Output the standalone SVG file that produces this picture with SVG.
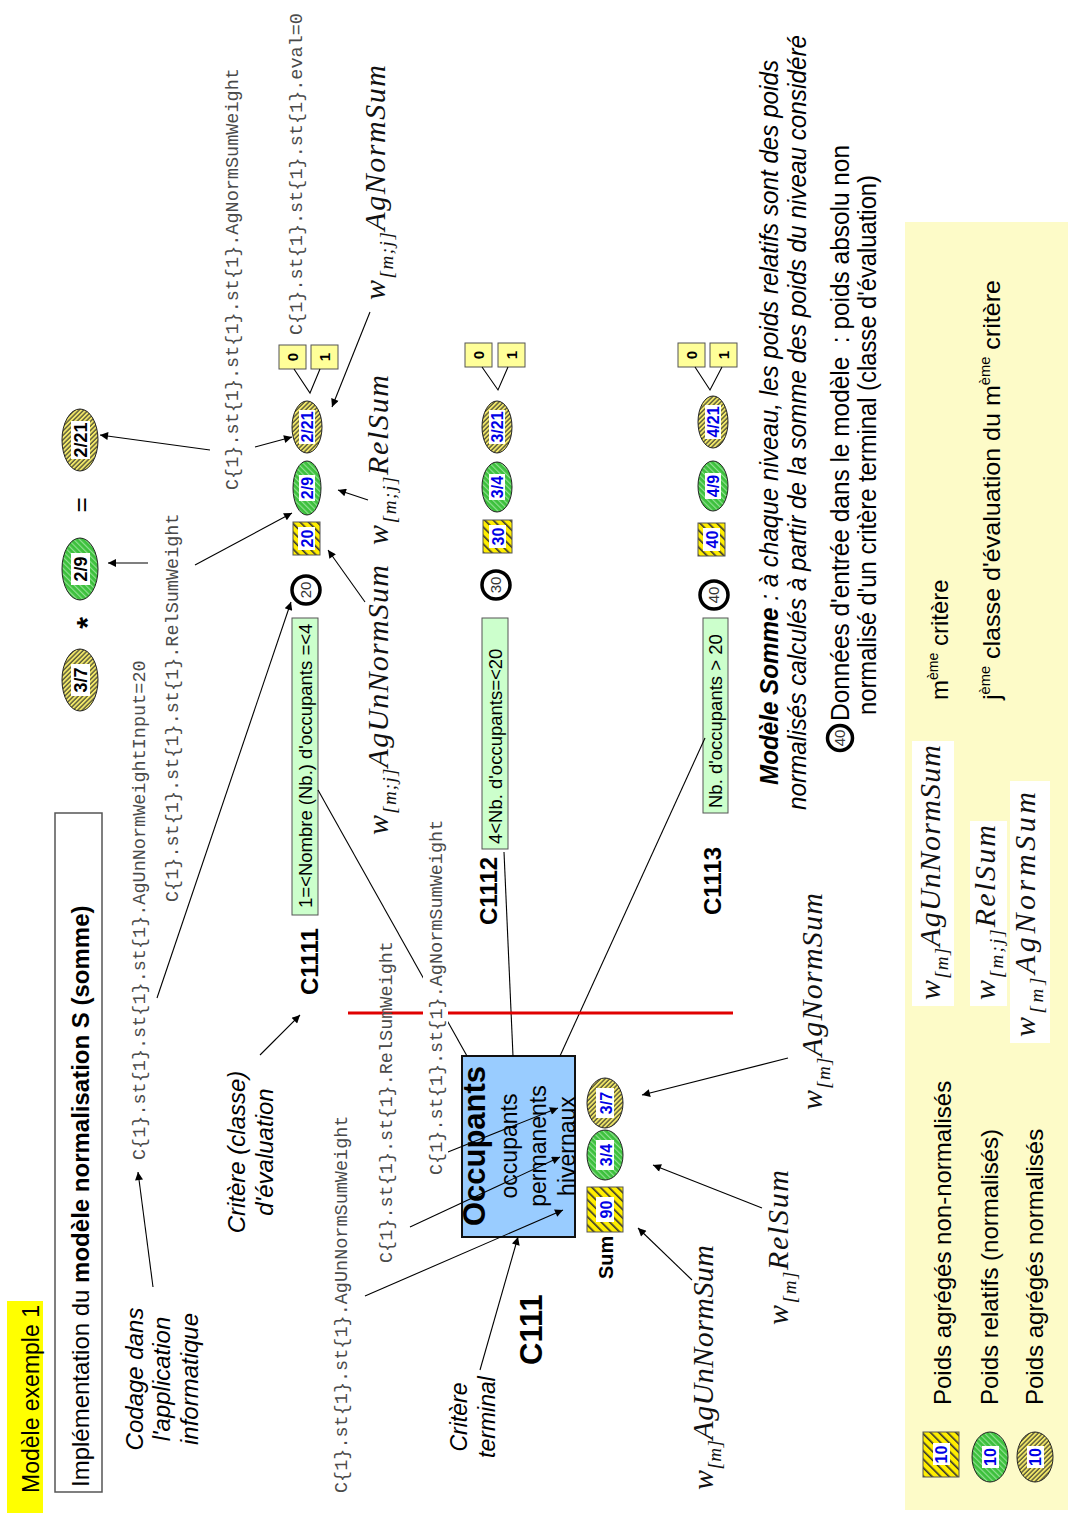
<svg xmlns="http://www.w3.org/2000/svg" width="1068" height="1513" viewBox="0 0 1068 1513">
<defs>
<style>
.mono{font-family:"Liberation Mono","DejaVu Sans Mono",monospace;font-size:18.5px;fill:#4a4a4a}
.math{font-family:"Liberation Serif","DejaVu Serif",serif;font-style:italic;font-size:30px;fill:#111}
.sub{font-size:19px}
.sans{font-family:"Liberation Sans",Arial,sans-serif;fill:#000}
.it{font-style:italic}
.b{font-weight:bold}
.c{stroke:#000;stroke-width:1.1;fill:none}
.a{marker-end:url(#ar)}
.lb{font-family:"Liberation Sans",Arial,sans-serif;font-weight:bold;font-size:16px;fill:#0000e6;text-anchor:middle}
.lk{font-family:"Liberation Sans",Arial,sans-serif;font-weight:bold;font-size:18px;fill:#000;text-anchor:middle}
.lw{fill:#fff}
.hy{fill:url(#hy);stroke:#555;stroke-width:1}
.hg{fill:url(#hg);stroke:#222;stroke-width:1}
.ho{fill:url(#ho);stroke:#222;stroke-width:1}
.gb{fill:#ccffcc;stroke:#555;stroke-width:1}
.yb{fill:#ffff99;stroke:#555;stroke-width:1}
.ci{fill:#fff;stroke:#000;stroke-width:3.5}
.ct{font-family:"Liberation Sans",Arial,sans-serif;font-size:15px;fill:#333;text-anchor:middle}
.bt{font-family:"Liberation Sans",Arial,sans-serif;font-weight:bold;font-size:15px;fill:#000;text-anchor:middle}
</style>
<marker id="ar" viewBox="0 0 10 10" refX="10" refY="5" markerWidth="11" markerHeight="8" orient="auto" markerUnits="userSpaceOnUse"><path d="M0,0L10,5L0,10z" fill="#000"/></marker>
<pattern id="hy" width="6" height="6" patternUnits="userSpaceOnUse" patternTransform="rotate(45)"><rect width="6" height="6" fill="#ffee00"/><rect width="1.6" height="6" fill="#333"/></pattern>
<pattern id="hg" width="4" height="4" patternUnits="userSpaceOnUse" patternTransform="rotate(45)"><rect width="4" height="4" fill="#3cc03c"/><rect width="1.2" height="4" fill="#90e090"/></pattern>
<pattern id="ho" width="3.2" height="3.2" patternUnits="userSpaceOnUse" patternTransform="rotate(-45)"><rect width="3.2" height="3.2" fill="#f2e868"/><rect width="1.4" height="3.2" fill="#5a5a3a"/></pattern>
</defs>
<rect width="1068" height="1513" fill="#fff"/>
<g transform="translate(0,1513) rotate(-90)">

<g id="legend-bg"><rect x="3" y="905" width="1288" height="163" fill="#fdfbc8"/></g>

<g id="title-tag"><rect x="0" y="7" width="212" height="36" fill="#ffff00"/><text class="sans" x="20" y="39" font-size="23">Modèle exemple 1</text></g>
<g id="title"><rect x="21" y="55" width="679" height="47" fill="#fff" stroke="#555" stroke-width="1.5"/><text class="sans" x="26" y="89" font-size="24">Implémentation du <tspan class="b">modèle normalisation S (somme)</tspan></text></g>

<g id="notes">
<text class="sans it" font-size="24" text-anchor="middle"><tspan x="134" y="143">Codage dans</tspan><tspan x="134" y="170">l'application</tspan><tspan x="134" y="198">informatique</tspan></text>
<text class="sans it" font-size="24" text-anchor="middle"><tspan x="361" y="245">Critère (classe)</tspan><tspan x="361" y="273">d'évaluation</tspan></text>
<text class="sans it" font-size="23" text-anchor="middle"><tspan x="96" y="467">Critère</tspan><tspan x="96" y="495">terminal</tspan></text>
</g>

<g id="C111">
<text class="sans b" x="148" y="542" font-size="31">C111</text>
<rect x="276" y="462" width="181" height="113" fill="#99ccff" stroke="#111" stroke-width="2"/>
<text class="sans" text-anchor="middle"><tspan x="367" y="485" font-size="31" font-weight="bold">Occupants</tspan><tspan x="367" y="517" font-size="23">occupants</tspan><tspan x="367" y="546" font-size="23">permanents</tspan><tspan x="367" y="575" font-size="23">hivernaux</tspan></text>
</g>
<g id="C111-weights">
<text class="sans b" x="234" y="613" font-size="20">Sum</text>
<rect class="hy" x="281" y="587" width="45" height="36"/><rect class="lw" x="291" y="596" width="25" height="18"/><text class="lb" x="303.5" y="611.5" font-size="18">90</text>
<ellipse class="hg" cx="358" cy="605" rx="25" ry="18"/><rect class="lw" x="343" y="596" width="30" height="18"/><text class="lb" x="358" y="611.5" font-size="18">3/4</text>
<ellipse class="ho" cx="410" cy="605" rx="25" ry="18"/><rect class="lw" x="395" y="596" width="30" height="18"/><text class="lb" x="410" y="611.5" font-size="18">3/7</text>
</g>

<g id="formula">
<ellipse class="ho" cx="833" cy="80" rx="31" ry="18"/><rect class="lw" x="817" y="71" width="32" height="19"/><text class="lk" x="833" y="87">3/7</text>
<text class="sans b" x="890" y="97" font-size="30" text-anchor="middle">*</text>
<ellipse class="hg" cx="944" cy="80" rx="31" ry="18"/><rect class="lw" x="928" y="71" width="32" height="19"/><text class="lk" x="944" y="87">2/9</text>
<text class="sans" x="1008" y="90" font-size="26" text-anchor="middle">=</text>
<ellipse class="ho" cx="1073" cy="80" rx="31" ry="18"/><rect class="lw" x="1054" y="71" width="38" height="19"/><text class="lk" x="1073" y="87">2/21</text>
</g>

<g id="C1111">
<text class="sans b" x="518" y="318" font-size="24">C1111</text>
<rect class="gb" x="598" y="292" width="297" height="26"/><text class="sans" x="605" y="312" font-size="18.5">1=&lt;Nombre (Nb.) d'occupants =&lt;4</text>
<circle class="ci" cx="923" cy="306" r="14"/><text class="ct" x="923" y="311">20</text>
<rect class="hy" x="958" y="293" width="33" height="27"/><rect class="lw" x="963" y="298" width="23" height="17"/><text class="lb" x="974.5" y="312.5">20</text>
<ellipse class="hg" cx="1025" cy="307" rx="27" ry="14"/><rect class="lw" x="1012" y="299" width="26" height="16"/><text class="lb" x="1025" y="313">2/9</text>
<ellipse class="ho" cx="1086" cy="307" rx="26" ry="15"/><rect class="lw" x="1069" y="299" width="34" height="16"/><text class="lb" x="1086" y="313">2/21</text>
<rect class="yb" x="1144" y="279" width="24" height="27"/><text class="bt" x="1156" y="298">0</text>
<rect class="yb" x="1144" y="311" width="24" height="27"/><text class="bt" x="1156" y="330">1</text>
</g>

<g id="C1112">
<text class="sans b" x="588" y="497" font-size="24">C1112</text>
<rect class="gb" x="664" y="482" width="231" height="26"/><text class="sans" x="669" y="502" font-size="18.5">4&lt;Nb. d'occupants=&lt;20</text>
<circle class="ci" cx="928" cy="496" r="14"/><text class="ct" x="928" y="501">30</text>
<rect class="hy" x="960" y="483" width="33" height="29"/><rect class="lw" x="965" y="489" width="23" height="17"/><text class="lb" x="976.5" y="503.5">30</text>
<ellipse class="hg" cx="1026" cy="497" rx="25" ry="15"/><rect class="lw" x="1013" y="489" width="26" height="16"/><text class="lb" x="1026" y="503">3/4</text>
<ellipse class="ho" cx="1086" cy="497" rx="26" ry="15"/><rect class="lw" x="1069" y="489" width="34" height="16"/><text class="lb" x="1086" y="503">3/21</text>
<rect class="yb" x="1146" y="465" width="24" height="27"/><text class="bt" x="1158" y="484">0</text>
<rect class="yb" x="1146" y="498" width="24" height="27"/><text class="bt" x="1158" y="517">1</text>
</g>

<g id="C1113">
<text class="sans b" x="598" y="721" font-size="24">C1113</text>
<rect class="gb" x="700" y="703" width="195" height="25"/><text class="sans" x="705" y="722" font-size="18.5">Nb. d'occupants &gt; 20</text>
<circle class="ci" cx="918" cy="714" r="14"/><text class="ct" x="918" y="719">40</text>
<rect class="hy" x="957" y="698" width="33" height="27"/><rect class="lw" x="962" y="703" width="23" height="17"/><text class="lb" x="973.5" y="717.5">40</text>
<ellipse class="hg" cx="1027" cy="713" rx="25" ry="15"/><rect class="lw" x="1014" y="705" width="26" height="16"/><text class="lb" x="1027" y="719">4/9</text>
<ellipse class="ho" cx="1091" cy="713" rx="26" ry="15"/><rect class="lw" x="1074" y="705" width="34" height="16"/><text class="lb" x="1091" y="719">4/21</text>
<rect class="yb" x="1146" y="678" width="24" height="27"/><text class="bt" x="1158" y="697">0</text>
<rect class="yb" x="1146" y="710" width="24" height="27"/><text class="bt" x="1158" y="729">1</text>
</g>

<g id="connectors">
<path class="c a" d="M226,153L341,138"/>
<path class="c a" d="M458,260L498,300"/>
<path class="c a" d="M143,480L276,518"/>
<path class="c a" d="M217,365L303,563"/>
<path class="c a" d="M286,410L356,560"/>
<path class="c a" d="M361,448L405,558"/>
<path class="c a" d="M233,692L285,638"/>
<path class="c a" d="M305,762L348,653"/>
<path class="c a" d="M455,788L418,642"/>
<path class="c a" d="M515,157L911,291"/>
<path class="c a" d="M948,195L1000,292"/>
<path class="c a" d="M950,148L950,108"/>
<path class="c a" d="M1063,210L1078,100"/>
<path class="c a" d="M1066,255L1076,292"/>
<path class="c a" d="M1201,370L1106,332"/>
<path class="c a" d="M1013,368L1023,338"/>
<path class="c a" d="M911,365L963,328"/>
<path class="c" d="M723,318L457,467"/>
<path class="c" d="M661,504L457,513"/>
<path class="c" d="M775,705L457,560"/>
<path class="c" d="M1144,294L1120,310L1144,320"/>
<path class="c" d="M1146,482L1123,498L1146,508"/>
<path class="c" d="M1146,695L1123,710L1146,722"/>
<path d="M500,348L500,733" stroke="#e00000" stroke-width="3" fill="none"/>
</g>

<g id="codes">
<text class="mono" x="353" y="145">C{1}.st{1}.st{1}.st{1}.AgUnNormWeightInput=20</text>
<text class="mono" x="611" y="178">C{1}.st{1}.st{1}.st{1}.RelSumWeight</text>
<text class="mono" x="1023" y="238">C{1}.st{1}.st{1}.st{1}.AgNormSumWeight</text>
<text class="mono" x="1178" y="302">C{1}.st{1}.st{1}.st{1}.eval=0</text>
<text class="mono" x="20" y="347">C{1}.st{1}.st{1}.AgUnNormSumWeight</text>
<text class="mono" x="250" y="392">C{1}.st{1}.st{1}.RelSumWeight</text>
<rect x="336" y="423" width="364" height="25" fill="#fff"/>
<text class="mono" x="338" y="442">C{1}.st{1}.st{1}.AgNormSumWeight</text>
</g>

<g id="math-labels">
<text class="math" x="678" y="388" textLength="270" lengthAdjust="spacing">w<tspan class="sub" dy="8">[m;j]</tspan><tspan dy="-8">AgUnNormSum</tspan></text>
<text class="math" x="968" y="388" textLength="170" lengthAdjust="spacing">w<tspan class="sub" dy="8">[m;j]</tspan><tspan dy="-8">RelSum</tspan></text>
<text class="math" x="1213" y="385" textLength="235" lengthAdjust="spacing">w<tspan class="sub" dy="8">[m;j]</tspan><tspan dy="-8">AgNormSum</tspan></text>
<text class="math" x="23" y="713" textLength="245" lengthAdjust="spacing">w<tspan class="sub" dy="8">[m]</tspan><tspan dy="-8">AgUnNormSum</tspan></text>
<text class="math" x="188" y="788" textLength="155" lengthAdjust="spacing">w<tspan class="sub" dy="8">[m]</tspan><tspan dy="-8">RelSum</tspan></text>
<text class="math" x="403" y="822" textLength="217" lengthAdjust="spacing">w<tspan class="sub" dy="8">[m]</tspan><tspan dy="-8">AgNormSum</tspan></text>
</g>

<g id="explanation">
<text class="sans it" x="728" y="778" font-size="25" textLength="725" lengthAdjust="spacingAndGlyphs"><tspan class="b">Modèle Somme</tspan> : à chaque niveau, les poids relatifs sont des poids</text>
<text class="sans it" x="703" y="806" font-size="25" textLength="775" lengthAdjust="spacingAndGlyphs">normalisés calculés à partir de la somme des poids du niveau considéré</text>
<circle class="ci" cx="775" cy="840" r="12.5"/><text class="ct" x="775" y="845" font-size="14">40</text>
<text class="sans" x="792" y="849" font-size="25" textLength="576" lengthAdjust="spacingAndGlyphs">Données d'entrée dans le modèle &#160;: poids absolu non</text>
<text class="sans" x="798" y="876" font-size="25" textLength="540" lengthAdjust="spacingAndGlyphs">normalisé d'un critère terminal (classe d'évaluation)</text>
</g>

<g id="legend">
<rect class="hy" x="36" y="923" width="45" height="36"/><rect class="lw" x="48" y="933" width="22" height="17"/><text class="lb" x="58.5" y="947">10</text>
<ellipse class="hg" cx="56" cy="990" rx="25" ry="18"/><rect class="lw" x="45" y="982" width="22" height="17"/><text class="lb" x="56" y="996">10</text>
<ellipse class="ho" cx="56" cy="1035" rx="25" ry="18"/><rect class="lw" x="45" y="1027" width="22" height="17"/><text class="lb" x="56" y="1041">10</text>
<text class="sans" x="108" y="951" font-size="24">Poids agrégés non-normalisés</text>
<text class="sans" x="108" y="998" font-size="24">Poids relatifs (normalisés)</text>
<text class="sans" x="108" y="1043" font-size="24">Poids agrégés normalisés</text>
<rect x="507" y="912" width="265" height="42" fill="#fff"/>
<text class="math" x="513" y="940" textLength="255" lengthAdjust="spacing">w<tspan class="sub" dy="8">[m]</tspan><tspan dy="-8">AgUnNormSum</tspan></text>
<rect x="507" y="970" width="185" height="37" fill="#fff"/>
<text class="math" x="513" y="995" textLength="175" lengthAdjust="spacing">w<tspan class="sub" dy="8">[m;j]</tspan><tspan dy="-8">RelSum</tspan></text>
<rect x="470" y="1010" width="262" height="40" fill="#fff"/>
<text class="math" x="476" y="1035" textLength="245" lengthAdjust="spacing">w<tspan class="sub" dy="8">[m]</tspan><tspan dy="-8">AgNormSum</tspan></text>
<text class="sans" x="813" y="948" font-size="24">m<tspan font-size="14" dy="-10">ème</tspan><tspan dy="10"> critère</tspan></text>
<text class="sans" x="813" y="1000" font-size="24" textLength="420" lengthAdjust="spacingAndGlyphs">j<tspan font-size="14" dy="-10">ème</tspan><tspan dy="10"> classe d'évaluation du m</tspan><tspan font-size="14" dy="-10">ème</tspan><tspan dy="10"> critère</tspan></text>
</g>

</g>
</svg>
